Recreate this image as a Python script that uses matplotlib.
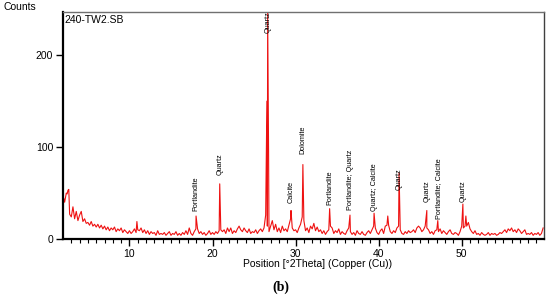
import matplotlib
matplotlib.use("Agg")
import matplotlib.pyplot as plt
import numpy as np

plt.rcParams['font.family'] = ['Liberation Sans', 'DejaVu Sans']

# background scan, 0.2 deg steps (counts)
bg_start = 2.0
bg_counts = [
    46, 40, 50, 53, 27,   # 2
    24, 35, 22, 30, 20,   # 3
    26, 30, 19, 22, 17,   # 4
    18, 15, 19, 14, 16,   # 5
    13, 16, 12, 15, 11,   # 6
    14, 10, 13, 9, 12,    # 7
    10, 13, 8, 11, 9,     # 8
    12, 7, 10, 8, 6,      # 9
    9, 6, 8, 11, 7,       # 10
    10, 9, 12, 7, 10,     # 11
    6, 9, 5, 8, 6,        # 12
    7, 4, 9, 5, 6,        # 13
    5, 7, 4, 6, 8,        # 14
    4, 6, 5, 8, 4,        # 15
    6, 4, 7, 5, 9,        # 16
    5, 12, 6, 4, 8,       # 17
    11, 11, 6, 8, 5,      # 18
    7, 4, 6, 9, 5,        # 19
    7, 5, 8, 6, 9,        # 20
    10, 8, 10, 6, 12,     # 21
    8, 12, 6, 9, 7,       # 22
    11, 14, 10, 8, 12,    # 23
    9, 7, 11, 6, 8,       # 24
    7, 10, 6, 9, 11,      # 25
    8, 12, 26, 14, 8,     # 26
    14, 20, 10, 16, 8,    # 27
    12, 7, 14, 9, 11,     # 28
    8, 15, 22, 12, 9,     # 29
    10, 7, 12, 16, 24,    # 30
    20, 9, 12, 7, 14,     # 31
    11, 17, 9, 13, 8,     # 32
    10, 6, 9, 5, 8,       # 33
    10, 14, 12, 6, 9,     # 34
    7, 11, 5, 8, 6,       # 35
    5, 9, 12, 8, 5,       # 36
    7, 4, 9, 6, 5,        # 37
    8, 5, 4, 7, 9,        # 38
    6, 10, 14, 12, 7,     # 39
    5, 9, 11, 6, 14,      # 40
    15, 15, 8, 6, 9,      # 41
    7, 12, 14, 10, 6,     # 42
    5, 8, 6, 9, 7,        # 43
    8, 10, 7, 12, 14,     # 44
    12, 8, 10, 14, 12,    # 45
    10, 6, 8, 5, 9,       # 46
    10, 8, 11, 6, 9,      # 47
    7, 5, 8, 10, 6,       # 48
    5, 7, 6, 4, 8,        # 49
    14, 12, 14, 14, 18,   # 50
    11, 8, 6, 9, 5,       # 51
    6, 4, 7, 5, 4,        # 52
    5, 7, 4, 6, 5,        # 53
    6, 4, 5, 7, 6,        # 54
    8, 10, 7, 11, 9,      # 55
    12, 8, 10, 7, 11,     # 56
    9, 6, 8, 10, 5,       # 57
    6, 5, 7, 4, 6,        # 58
    5, 7, 4, 6, 12,       # 59
]

# sharp reflections: position, counts
peak_pos = [2.1, 2.5, 2.7, 10.9, 18.02, 20.87, 26.55, 26.64, 26.75, 29.45,
            30.88, 34.1, 36.55, 39.45, 41.1, 42.46, 45.8, 47.12, 50.14, 50.5]
peak_counts = [44, 49, 54, 19, 25, 60, 150, 246, 95, 31,
               81, 33, 26, 28, 25, 72, 31, 20, 38, 25]

labels = ['Portlandite', 'Quartz', 'Quartz', 'Calcite', 'Dolomite', 'Portlandite',
          'Portlandite; Quartz', 'Quartz; Calcite', 'Quartz', 'Quartz',
          'Portlandite; Calcite', 'Quartz']
label_pos = [18.0, 20.9, 26.64, 29.5, 30.9, 34.15, 36.6, 39.5, 42.5, 45.8, 47.2, 50.15]
label_base = [30, 70, 224, 39, 92, 37, 32, 30, 53, 40, 22, 40]

bg_theta = bg_start + 0.2 * np.arange(len(bg_counts))
theta = np.concatenate([bg_theta, peak_pos])
counts = np.concatenate([bg_counts, peak_counts])
order = np.argsort(theta)
theta, counts = theta[order], counts[order]

fig = plt.figure(figsize=(5.5, 2.96), dpi=100)
ax = fig.add_axes([0.1145, 0.1926, 0.8745, 0.767])

ax.plot(theta, counts, color='#ee1111', lw=0.8)

for name, x, y in zip(labels, label_pos, label_base):
    ax.text(x, y, name, rotation=90, ha='center', va='bottom', fontsize=5.2,
            color='black', clip_on=False)

ax.set_xlim(2.0, 59.9)
ax.set_ylim(0, 247)
ax.set_xticks([10, 20, 30, 40, 50])
ax.set_xticks(np.arange(3, 60), minor=True)
ax.set_yticks([0, 100, 200])
ax.tick_params(axis='both', which='major', direction='out', length=5,
               width=1, labelsize=7.5, pad=2)
ax.tick_params(axis='x', which='minor', direction='out', length=3, width=0.8)

ax.spines['left'].set_linewidth(1.6)
ax.spines['bottom'].set_linewidth(1.6)
ax.spines['top'].set_color('#707070')
ax.spines['right'].set_color('#404040')
ax.spines['top'].set_linewidth(1.0)
ax.spines['right'].set_linewidth(1.0)

ax.text(0.004, 0.985, '240-TW2.SB', transform=ax.transAxes, ha='left', va='top',
        fontsize=7.5)
fig.text(0.006, 0.975, 'Counts', ha='left', va='center', fontsize=7.5)
fig.text(0.577, 0.108, 'Position [\u00b02Theta] (Copper (Cu))', ha='center',
         va='center', fontsize=7.5)
fig.text(0.51, 0.03, '(b)', ha='center', va='center', fontsize=10,
         fontweight='bold', family='Liberation Serif')

fig.savefig('out.png', dpi=100)
